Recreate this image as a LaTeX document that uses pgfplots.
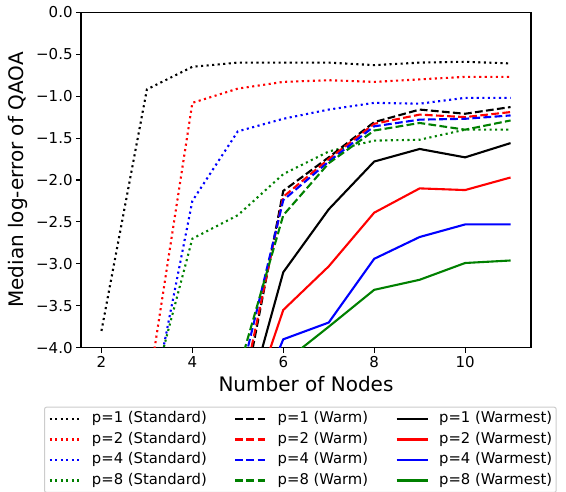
\documentclass[border=0pt]{standalone}
\usepackage{fontspec}
\setmainfont{DejaVu Sans}
\usepackage{pgfplots}
\pgfplotsset{compat=1.18}
\definecolor{mplgreen}{rgb}{0,0.5,0}
\pgfplotsset{
  std/.style={line width=2.1pt, dash pattern=on 2.1pt off 3.45pt},
  wrm/.style={line width=2.1pt, dash pattern=on 7.75pt off 3.35pt},
  wst/.style={line width=2.1pt},
}
\begin{document}
\begin{tikzpicture}
\path[use as bounding box] (-81pt,-144.3pt) rectangle (485pt,347.7pt);
\begin{axis}[
  at={(0,0)}, anchor=south west,
  scale only axis, width=450pt, height=335.4pt,
  xmin=1.55, xmax=11.45, ymin=-4, ymax=0,
  xtick={2,4,6,8,10}, xticklabels={2,4,6,8,10},
  ytick={-4,-3.5,-3,-2.5,-2,-1.5,-1,-0.5,0},
  yticklabels={−4.0,−3.5,−3.0,−2.5,−2.0,−1.5,−1.0,−0.5,0.0},
  tick pos=left, tick align=outside, major tick length=4.9pt,
  every tick/.style={black, line width=1.1pt},
  axis line style={line width=1.1pt},
  tick label style={font=\fontsize{15}{18}\selectfont},
  label style={font=\fontsize{20}{24}\selectfont},
  xlabel={Number of Nodes},
  ylabel={Median log-error of QAOA},
  xlabel style={at={(axis description cs:0.5,-0.1312)}, anchor=base},
  ylabel style={at={(axis description cs:-0.1278,0.5)}, anchor=base},
  legend columns=4, transpose legend,
  legend cell align=left,
  legend image code/.code={\path[draw=none, fill=none] (0pt,0pt) -- (42.4pt,0pt); \draw[#1] (0pt,0pt) -- (31pt,0pt);},
  legend style={
    at={(-0.0822,-0.1759)}, anchor=north west,
    draw=black!20, line width=1pt, rounded corners=2pt, fill=white,
    font=\fontsize{14.8}{17}\selectfont,
    inner xsep=4pt, inner ysep=1.6pt,
    nodes={inner xsep=0pt, inner ysep=3pt, text height=11pt, text depth=3.5pt},
    /tikz/every even column/.append style={column sep=27.5pt},
    /tikz/every odd column/.append style={column sep=0pt},
  },
]
% Standard (dotted)
\addplot[std, black] coordinates {(2,-3.80)(3,-0.92)(4,-0.65)(5,-0.60)(6,-0.60)(7,-0.60)(8,-0.63)(9,-0.60)(10,-0.59)(11,-0.61)};
\addlegendentry{p=1 (Standard)}
\addplot[std, red] coordinates {(3,-4.6)(4,-1.08)(5,-0.91)(6,-0.83)(7,-0.81)(8,-0.83)(9,-0.80)(10,-0.77)(11,-0.77)};
\addlegendentry{p=2 (Standard)}
\addplot[std, blue] coordinates {(3,-5.0)(4,-2.25)(5,-1.42)(6,-1.27)(7,-1.16)(8,-1.08)(9,-1.09)(10,-1.02)(11,-1.02)};
\addlegendentry{p=4 (Standard)}
\addplot[std, mplgreen] coordinates {(3,-4.76)(4,-2.70)(5,-2.42)(6,-1.93)(7,-1.66)(8,-1.53)(9,-1.52)(10,-1.40)(11,-1.40)};
\addlegendentry{p=8 (Standard)}
% Warm (dashed)
\addplot[wrm, black] coordinates {(5,-4.92)(6,-2.13)(7,-1.73)(8,-1.31)(9,-1.16)(10,-1.21)(11,-1.13)};
\addlegendentry{p=1 (Warm)}
\addplot[wrm, red] coordinates {(5,-4.77)(6,-2.20)(7,-1.75)(8,-1.33)(9,-1.22)(10,-1.25)(11,-1.19)};
\addlegendentry{p=2 (Warm)}
\addplot[wrm, blue] coordinates {(5,-4.50)(6,-2.24)(7,-1.78)(8,-1.36)(9,-1.28)(10,-1.27)(11,-1.23)};
\addlegendentry{p=4 (Warm)}
\addplot[wrm, mplgreen] coordinates {(5,-4.30)(6,-2.42)(7,-1.80)(8,-1.41)(9,-1.32)(10,-1.40)(11,-1.29)};
\addlegendentry{p=8 (Warm)}
% Warmest (solid)
\addplot[wst, black] coordinates {(5,-5.06)(6,-3.10)(7,-2.35)(8,-1.78)(9,-1.63)(10,-1.73)(11,-1.56)};
\addlegendentry{p=1 (Warmest)}
\addplot[wst, red] coordinates {(5,-5.15)(6,-3.55)(7,-3.03)(8,-2.39)(9,-2.10)(10,-2.12)(11,-1.97)};
\addlegendentry{p=2 (Warmest)}
\addplot[wst, blue] coordinates {(5,-5.2)(6,-3.90)(7,-3.70)(8,-2.94)(9,-2.68)(10,-2.53)(11,-2.53)};
\addlegendentry{p=4 (Warmest)}
\addplot[wst, mplgreen] coordinates {(6,-4.18)(7,-3.75)(8,-3.31)(9,-3.19)(10,-2.99)(11,-2.96)};
\addlegendentry{p=8 (Warmest)}
\end{axis}
\end{tikzpicture}
\end{document}
